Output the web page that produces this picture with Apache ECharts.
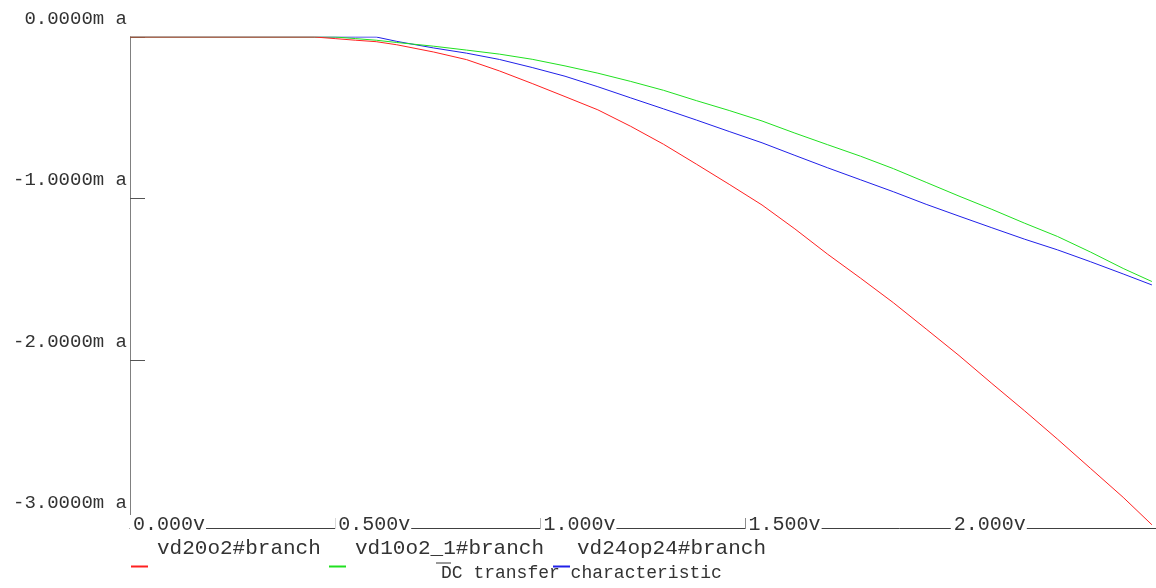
<!DOCTYPE html>
<html>
<head>
<meta charset="utf-8">
<script src="https://cdn.jsdelivr.net/npm/echarts@6/dist/echarts.min.js"></script>
<style>html,body{margin:0;padding:0;background:#fff}#c{width:1156px;height:588px}</style>
</head>
<body>
<div id="c"></div>
<script>
// Sweep voltage (V)
const voltage = [0, 0.45, 0.5, 0.55, 0.6, 0.65, 0.74, 0.82, 0.9, 0.98, 1.06, 1.14, 1.22, 1.3, 1.38, 1.46, 1.54, 1.62, 1.7, 1.78, 1.86, 1.94, 2.02, 2.1, 2.18, 2.26, 2.34, 2.42, 2.49];
// Branch currents (mA)
const vd20o2 = [0, 0, -0.01, -0.02, -0.029, -0.048, -0.093, -0.14, -0.21, -0.288, -0.369, -0.451, -0.553, -0.664, -0.787, -0.912, -1.04, -1.188, -1.345, -1.493, -1.645, -1.808, -1.972, -2.145, -2.315, -2.49, -2.67, -2.85, -3.02];
const vd10o2_1 = [0, 0, 0, -0.01, -0.02, -0.034, -0.057, -0.081, -0.106, -0.138, -0.179, -0.224, -0.275, -0.33, -0.394, -0.455, -0.52, -0.595, -0.667, -0.738, -0.815, -0.9, -0.985, -1.067, -1.153, -1.235, -1.331, -1.433, -1.514];
const vd24op24 = [0, 0, 0, 0, 0, -0.027, -0.068, -0.1, -0.139, -0.189, -0.243, -0.308, -0.377, -0.445, -0.514, -0.585, -0.655, -0.733, -0.81, -0.884, -0.958, -1.036, -1.109, -1.181, -1.252, -1.318, -1.391, -1.467, -1.535];

const seriesNames = ['vd20o2#branch', 'vd10o2_1#branch', 'vd24op24#branch'];
const seriesColors = ['#ff2020', '#20e020', '#2020e8'];
const xTickValues = [0, 0.5, 1, 1.5, 2];
const xTickLabels = ['0.000v', '0.500v', '1.000v', '1.500v', '2.000v'];
const yTickValues = [0, -1, -2, -3];
const yTickLabels = ['0.0000m a', '-1.0000m a', '-2.0000m a', '-3.0000m a'];
const chartTitle = 'DC transfer characteristic';

const allSeries = [vd20o2, vd10o2_1, vd24op24];
const font = "'Liberation Mono', monospace";

const chart = echarts.init(document.getElementById('c'), null, {renderer: 'canvas'});

function lbl(values, labels) {
  return v => {
    for (let i = 0; i < values.length; i++) if (Math.abs(values[i] - v) < 1e-6) return labels[i];
    return '';
  };
}

const legendPos = [
  {icon: 131, text: 157},
  {icon: 329, text: 355},
  {icon: 553, text: 577}
];

chart.setOption({
  animation: false,
  backgroundColor: '#ffffff',
  title: {
    text: chartTitle,
    left: 436, top: 559,
    textStyle: {fontFamily: font, fontSize: 18, fontWeight: 'normal', color: '#333'}
  },
  legend: seriesNames.map((n, i) => ({
    data: [n],
    left: legendPos[i].icon,
    top: 538,
    itemWidth: 17, itemHeight: 2, itemGap: 0,
    icon: 'rect',
    padding: 0,
    formatter: name => name + '\n \n ',
    textStyle: {
      fontFamily: font, fontSize: 21, color: '#333', lineHeight: 18,
      padding: [0, 0, 0, legendPos[i].text - legendPos[i].icon - 22]
    }
  })),
  graphic: [{
    type: 'line', shape: {x1: 436, y1: 563, x2: 451, y2: 563},
    style: {stroke: '#333', lineWidth: 1}
  }],
  grid: {left: 130, right: -4, top: 37, bottom: 60, containLabel: false},
  xAxis: {
    type: 'value', min: 0, max: 2.5,
    axisLine: {show: true, onZero: false, lineStyle: {color: '#404040', width: 1}},
    axisTick: {show: true, inside: true, length: 10, customValues: xTickValues, lineStyle: {color: '#404040'}},
    splitLine: {show: false},
    axisLabel: {
      customValues: xTickValues,
      formatter: lbl(xTickValues, xTickLabels),
      fontFamily: font, fontSize: 20, color: '#333',
      align: 'left', verticalAlign: 'middle', margin: -3,
      backgroundColor: '#fff', padding: [0, 1, 0, 3]
    }
  },
  yAxis: {
    type: 'value', min: -3.04, max: 0,
    axisLine: {show: true, onZero: false, lineStyle: {color: '#808080', width: 1}},
    axisTick: {show: true, inside: true, length: 15, customValues: [0, -1, -2], lineStyle: {color: '#555'}},
    splitLine: {show: false},
    axisLabel: {
      customValues: yTickValues,
      formatter: lbl(yTickValues, yTickLabels),
      fontFamily: font, fontSize: 19, color: '#333',
      verticalAlign: 'bottom', padding: [0, 0, 9, 0], margin: 3
    }
  },
  series: allSeries.map((d, i) => ({
    name: seriesNames[i],
    type: 'line',
    data: voltage.map((v, j) => [v, d[j]]),
    showSymbol: false,
    symbol: 'none',
    color: seriesColors[i],
    lineStyle: {color: seriesColors[i], width: 1},
    z: 3 - i
  }))
});
</script>
</body>
</html>
